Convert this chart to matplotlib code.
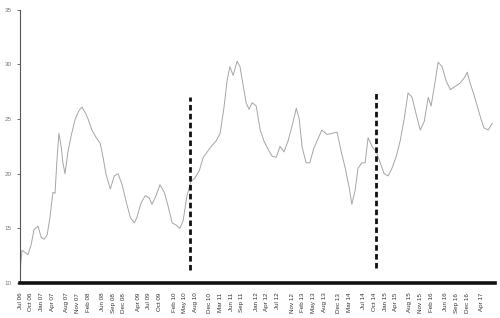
import matplotlib
matplotlib.use("Agg")
import matplotlib.pyplot as plt
import pandas as pd

dates = ["2006-07-01","2006-07-18","2006-08-13","2006-09-07","2006-10-04","2006-10-28",
         "2006-12-01","2006-12-28","2007-01-22","2007-02-17","2007-03-13","2007-04-07",
         "2007-04-25","2007-05-10","2007-05-28","2007-06-16","2007-07-01","2007-07-19",
         "2007-08-13","2007-09-10","2007-10-13","2007-11-16","2007-12-10","2008-01-07",
         "2008-02-01","2008-03-04","2008-04-10","2008-05-13","2008-06-07","2008-07-01",
         "2008-08-07","2008-09-10","2008-10-13","2008-11-16","2008-12-19","2009-01-25",
         "2009-02-28","2009-03-22","2009-04-25","2009-06-01","2009-07-04","2009-07-28",
         "2009-09-01","2009-10-04","2009-11-10","2009-12-13","2010-01-16","2010-02-19",
         "2010-03-22","2010-04-19","2010-05-22","2010-06-25","2010-07-28","2010-09-04",
         "2010-10-07","2010-11-10","2010-12-22","2011-01-25","2011-02-28","2011-04-01",
         "2011-04-28","2011-05-22","2011-06-19","2011-07-22","2011-08-16","2011-09-13",
         "2011-10-07","2011-11-01","2011-11-28","2012-01-01","2012-02-04","2012-03-07",
         "2012-04-13","2012-05-16","2012-06-19","2012-07-22","2012-08-25","2012-09-28",
         "2012-11-04","2012-12-07","2013-01-01","2013-01-25","2013-02-28","2013-04-01",
         "2013-05-04","2013-06-10","2013-07-13","2013-08-25","2013-10-07","2013-11-19",
         "2013-12-25","2014-01-28","2014-03-01","2014-03-25","2014-04-22","2014-05-16",
         "2014-06-19","2014-07-16","2014-08-10","2014-09-13","2014-10-19","2014-11-22",
         "2014-12-25","2015-01-28","2015-03-01","2015-04-04","2015-05-10","2015-06-13",
         "2015-07-16","2015-08-19","2015-09-22","2015-10-28","2015-12-01","2016-01-04",
         "2016-01-28","2016-02-25","2016-03-28","2016-05-01","2016-06-04","2016-07-10",
         "2016-08-22","2016-10-01","2016-11-07","2016-12-01","2016-12-25","2017-01-28",
         "2017-03-01","2017-03-28","2017-04-22","2017-05-28","2017-07-01"]
values = [11.0,13.0,12.8,12.6,13.5,14.9,
          15.2,14.2,14.0,14.4,16.0,18.3,
          18.2,21.0,23.7,22.5,21.0,20.0,
          22.0,23.5,25.0,25.8,26.1,25.6,
          25.0,24.0,23.3,22.8,21.5,20.0,
          18.6,19.8,20.0,19.0,17.5,16.0,
          15.5,16.0,17.3,18.0,17.8,17.2,
          18.0,19.0,18.3,17.0,15.5,15.3,
          15.0,15.7,18.0,19.3,19.6,20.3,
          21.5,22.0,22.6,23.0,23.7,26.0,
          28.5,29.8,29.0,30.3,29.8,28.0,
          26.5,25.9,26.5,26.2,24.0,23.0,
          22.2,21.6,21.5,22.5,22.0,23.0,
          24.5,26.0,25.0,22.5,21.0,21.0,
          22.3,23.2,24.0,23.6,23.7,23.8,
          22.0,20.5,18.8,17.2,18.5,20.5,
          21.0,21.0,23.3,22.5,22.0,21.0,
          20.0,19.8,20.5,21.5,23.0,25.0,
          27.4,27.0,25.5,24.0,24.8,27.0,
          26.2,28.0,30.2,29.8,28.5,27.7,
          28.0,28.3,28.8,29.3,28.3,27.2,
          26.0,25.0,24.2,24.0,24.6]

tick_dates = ["2006-07-01","2006-10-01","2007-01-01","2007-04-01","2007-08-01","2007-11-01",
              "2008-02-01","2008-06-01","2008-09-01","2008-12-01","2009-04-01","2009-07-01",
              "2009-10-01","2010-02-01","2010-05-01","2010-08-01","2010-12-01","2011-03-01",
              "2011-06-01","2011-09-01","2012-01-01","2012-04-01","2012-07-01","2012-11-01",
              "2013-02-01","2013-05-01","2013-08-01","2013-12-01","2014-03-01","2014-07-01",
              "2014-10-01","2015-01-01","2015-04-01","2015-08-01","2015-11-01","2016-02-01",
              "2016-06-01","2016-09-01","2016-12-01","2017-04-01"]
tick_labels = ["Jul 06","Oct 06","Jan 07","Apr 07","Aug 07","Nov 07",
               "Feb 08","Jun 08","Sep 08","Dec 08","Apr 09","Jul 09",
               "Oct 09","Feb 10","May 10","Aug 10","Dec 10","Mar 11",
               "Jun 11","Sep 11","Jan 12","Apr 12","Jul 12","Nov 12",
               "Feb 13","May 13","Aug 13","Dec 13","Mar 14","Jul 14",
               "Oct 14","Jan 15","Apr 15","Aug 15","Nov 15","Feb 16",
               "Jun 16","Sep 16","Dec 16","Apr 17"]

event_dates = ["2010-06-16", "2014-10-19"]
event_low = [11.2, 11.4]
event_high = [27.0, 27.4]

plt.rcParams['font.family'] = ['Liberation Sans', 'DejaVu Sans']

fig = plt.figure(figsize=(5.0, 3.18), dpi=100)
ax = fig.add_axes([0.04, 0.11, 0.95, 0.859])

x = pd.to_datetime(dates)
ax.plot(x, values, color="#a5a5a5", lw=0.7)

for d, lo, hi in zip(event_dates, event_low, event_high):
    ax.vlines(pd.Timestamp(d), lo, hi, colors="#111111", linestyles=(0, (2.0, 1.2)), lw=2)

ax.set_xlim(pd.Timestamp("2006-07-01"), pd.Timestamp("2017-07-25"))
ax.set_ylim(10, 35)
ax.set_yticks([10, 15, 20, 25, 30, 35])
ax.set_yticklabels(["10", "15", "20", "25", "30", "35"])
ax.set_xticks(pd.to_datetime(tick_dates))
ax.set_xticklabels(tick_labels, rotation=90)

for s in ["top", "right"]:
    ax.spines[s].set_visible(False)
ax.spines["left"].set_color("#555555")
ax.spines["left"].set_linewidth(0.8)
ax.spines["bottom"].set_color("#111111")
ax.spines["bottom"].set_linewidth(2.6)

ax.tick_params(axis="y", labelsize=4.5, labelcolor="#777777", color="#555555",
               length=2, width=0.6, pad=4)
ax.tick_params(axis="x", labelsize=4.5, labelcolor="#333333", color="white",
               direction="inout", length=4, width=0.8, pad=5)

fig.savefig("out.png", dpi=100)
